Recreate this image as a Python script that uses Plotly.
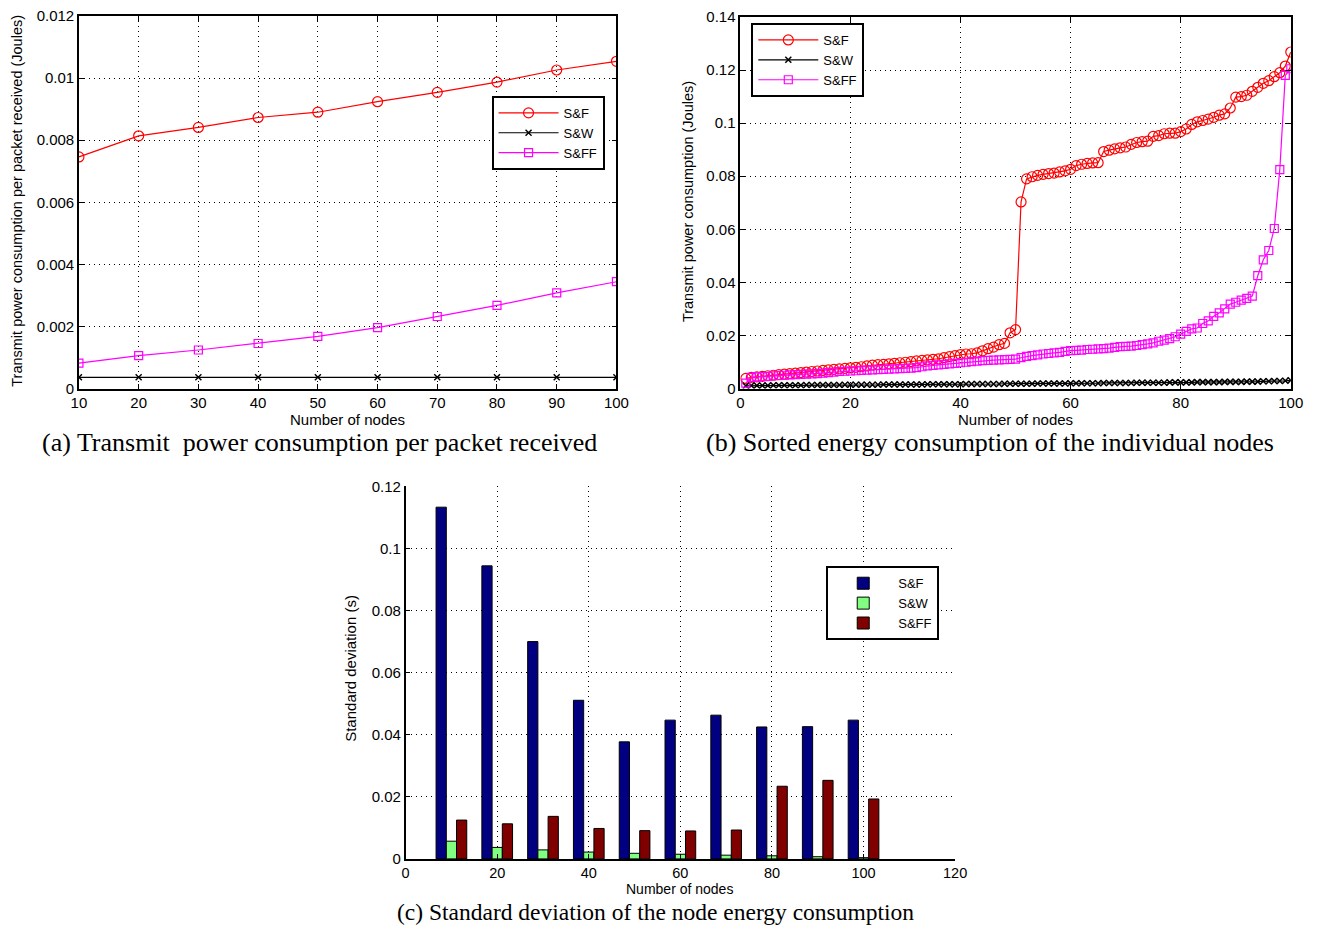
import plotly.graph_objects as go

W, H = 1319, 930

# ---------------- Data ----------------
# (a) Transmit power consumption per packet received
nodes_a = [10, 20, 30, 40, 50, 60, 70, 80, 90, 100]
sf_a = [0.00746, 0.00814, 0.00841, 0.00873, 0.00890, 0.00924, 0.00954, 0.00987, 0.01026, 0.01054]
sw_a = [0.00036, 0.00036, 0.00036, 0.00036, 0.00036, 0.00036, 0.00036, 0.00036, 0.00036, 0.00036]
sff_a = [0.00082, 0.00106, 0.00124, 0.00145, 0.00168, 0.00196, 0.00232, 0.00268, 0.00308, 0.00344]

# (b) Sorted energy consumption of the individual nodes (node index 1..100)
nodes_b = list(range(1, 101))
sf_b = [
    0.0038, 0.0042, 0.0044, 0.0046, 0.0048, 0.0050, 0.0052, 0.0054, 0.0056, 0.0058,
    0.0060, 0.0062, 0.0064, 0.0066, 0.0068, 0.0070, 0.0072, 0.0074, 0.0076, 0.0078,
    0.0080, 0.0082, 0.0085, 0.0088, 0.0090, 0.0091, 0.0093, 0.0095, 0.0097, 0.0099,
    0.0101, 0.0104, 0.0106, 0.0108, 0.0110, 0.0112, 0.0116, 0.0120, 0.0124, 0.0128,
    0.0130, 0.0131, 0.0134, 0.0142, 0.0150, 0.0156, 0.0165, 0.0170, 0.0210, 0.0222,
    0.0703, 0.0790, 0.0798, 0.0803, 0.0807, 0.0810, 0.0812, 0.0816, 0.0820, 0.0826,
    0.0840, 0.0845, 0.0848, 0.0850, 0.0851, 0.0893, 0.0898, 0.0903, 0.0907, 0.0910,
    0.0920, 0.0927, 0.0930, 0.0932, 0.0950, 0.0953, 0.0960, 0.0962, 0.0962, 0.0968,
    0.0978, 0.0995, 0.1005, 0.1010, 0.1015, 0.1022, 0.1030, 0.1035, 0.1057, 0.1098,
    0.1100, 0.1105, 0.1120, 0.1135, 0.1150, 0.1160, 0.1175, 0.1190, 0.1215, 0.1268,
]
sw_b = [
    0.0010, 0.0011, 0.0011, 0.0011, 0.0011, 0.0012, 0.0012, 0.0012, 0.0012, 0.0012,
    0.0012, 0.0013, 0.0013, 0.0013, 0.0013, 0.0013, 0.0013, 0.0013, 0.0014, 0.0014,
    0.0014, 0.0014, 0.0014, 0.0014, 0.0014, 0.0015, 0.0015, 0.0015, 0.0015, 0.0015,
    0.0015, 0.0015, 0.0015, 0.0016, 0.0016, 0.0016, 0.0016, 0.0016, 0.0016, 0.0016,
    0.0017, 0.0017, 0.0017, 0.0017, 0.0017, 0.0017, 0.0017, 0.0018, 0.0018, 0.0018,
    0.0018, 0.0018, 0.0018, 0.0019, 0.0019, 0.0019, 0.0019, 0.0019, 0.0019, 0.0020,
    0.0020, 0.0020, 0.0020, 0.0020, 0.0020, 0.0021, 0.0021, 0.0021, 0.0021, 0.0021,
    0.0021, 0.0022, 0.0022, 0.0022, 0.0022, 0.0022, 0.0022, 0.0023, 0.0023, 0.0023,
    0.0023, 0.0023, 0.0024, 0.0024, 0.0024, 0.0024, 0.0024, 0.0025, 0.0025, 0.0025,
    0.0025, 0.0026, 0.0026, 0.0026, 0.0027, 0.0027, 0.0028, 0.0028, 0.0029, 0.0031,
]
sff_b = [
    0.0020, 0.0042, 0.0044, 0.0045, 0.0046, 0.0048, 0.0049, 0.0050, 0.0051, 0.0052,
    0.0053, 0.0054, 0.0055, 0.0056, 0.0058, 0.0060, 0.0062, 0.0064, 0.0065, 0.0066,
    0.0067, 0.0068, 0.0069, 0.0070, 0.0071, 0.0072, 0.0073, 0.0074, 0.0075, 0.0076,
    0.0077, 0.0079, 0.0082, 0.0085, 0.0087, 0.0089, 0.0091, 0.0093, 0.0095, 0.0097,
    0.0099, 0.0101, 0.0103, 0.0105, 0.0106, 0.0107, 0.0108, 0.0109, 0.0110, 0.0111,
    0.0116, 0.0121, 0.0124, 0.0127, 0.0130, 0.0132, 0.0134, 0.0136, 0.0140, 0.0143,
    0.0144, 0.0145, 0.0147, 0.0148, 0.0149, 0.0150, 0.0152, 0.0155, 0.0158, 0.0159,
    0.0160, 0.0162, 0.0165, 0.0168, 0.0172, 0.0178, 0.0182, 0.0188, 0.0195, 0.0205,
    0.0215, 0.0225, 0.0228, 0.0245, 0.0255, 0.0272, 0.0285, 0.0300, 0.0318, 0.0325,
    0.0333, 0.0340, 0.0348, 0.0425, 0.0485, 0.0520, 0.0603, 0.0825, 0.1180, 0.1205,
]

# (c) Standard deviation of the node energy consumption
nodes_c = [10, 20, 30, 40, 50, 60, 70, 80, 90, 100]
sf_c = [0.1133, 0.0944, 0.0700, 0.0511, 0.0377, 0.0447, 0.0463, 0.0425, 0.0426, 0.0447]
sw_c = [0.0057, 0.0037, 0.0029, 0.0022, 0.0018, 0.0015, 0.0012, 0.0010, 0.0007, 0.0004]
sff_c = [0.0125, 0.0113, 0.0137, 0.0098, 0.0091, 0.0090, 0.0093, 0.0234, 0.0253, 0.0193]

series_names = ["S&F", "S&W", "S&FF"]

ticks_a_y = [0, 0.002, 0.004, 0.006, 0.008, 0.01, 0.012]
ticks_a_y_txt = ["0", "0.002", "0.004", "0.006", "0.008", "0.01", "0.012"]
ticks_a_x = [10, 20, 30, 40, 50, 60, 70, 80, 90, 100]
ticks_b_y = [0, 0.02, 0.04, 0.06, 0.08, 0.1, 0.12, 0.14]
ticks_b_y_txt = ["0", "0.02", "0.04", "0.06", "0.08", "0.1", "0.12", "0.14"]
ticks_b_x = [0, 20, 40, 60, 80, 100]
ticks_c_y = [0, 0.02, 0.04, 0.06, 0.08, 0.1, 0.12]
ticks_c_y_txt = ["0", "0.02", "0.04", "0.06", "0.08", "0.1", "0.12"]
ticks_c_x = [0, 20, 40, 60, 80, 100, 120]

# ---------------- Layout helpers ----------------
# Target positions are given in picture pixels; the returned picture shows the page
# inset by ~8px and scaled by ~0.984, so positions are mapped back to figure pixels.
SX, SY, OFFSET = 0.985, 0.983, 8.0

def px_x(p):
    return ((p - OFFSET) / SX) / W

def px_y(p):
    return 1 - ((p - OFFSET) / SY) / H

SANS = "Liberation Sans, Arial, sans-serif"
SERIF = "Liberation Serif, Times New Roman, serif"
TICKFONT = dict(family=SANS, size=15, color="black")
LEGFONT = dict(family=SANS, size=13, color="black")

RED = "#FF0000"
MAG = "#FF00FF"
BLK = "#000000"

fig = go.Figure()

# ---- (a)
fig.add_trace(go.Scatter(x=nodes_a, y=sf_a, name=series_names[0], mode="lines+markers",
                         line=dict(color=RED, width=1.2),
                         marker=dict(symbol="circle-open", size=10, color=RED, line=dict(width=1.2)),
                         xaxis="x", yaxis="y", legend="legend"))
fig.add_trace(go.Scatter(x=nodes_a, y=sw_a, name=series_names[1], mode="lines+markers",
                         line=dict(color=BLK, width=1.2),
                         marker=dict(symbol="x-thin-open", size=6, color=BLK, line=dict(width=1.4, color=BLK)),
                         xaxis="x", yaxis="y", legend="legend"))
fig.add_trace(go.Scatter(x=nodes_a, y=sff_a, name=series_names[2], mode="lines+markers",
                         line=dict(color=MAG, width=1.2),
                         marker=dict(symbol="square-open", size=8, color=MAG, line=dict(width=1.2)),
                         xaxis="x", yaxis="y", legend="legend"))

# ---- (b)
fig.add_trace(go.Scatter(x=nodes_b, y=sf_b, name=series_names[0], mode="lines+markers",
                         line=dict(color=RED, width=1.2),
                         marker=dict(symbol="circle-open", size=10, color=RED, line=dict(width=1.2)),
                         xaxis="x2", yaxis="y2", legend="legend2"))
fig.add_trace(go.Scatter(x=nodes_b, y=sw_b, name=series_names[1], mode="lines+markers",
                         line=dict(color=BLK, width=1.2),
                         marker=dict(symbol="x-thin-open", size=6, color=BLK, line=dict(width=1.5, color=BLK)),
                         xaxis="x2", yaxis="y2", legend="legend2"))
fig.add_trace(go.Scatter(x=nodes_b, y=sff_b, name=series_names[2], mode="lines+markers",
                         line=dict(color=MAG, width=1.2),
                         marker=dict(symbol="square-open", size=8, color=MAG, line=dict(width=1.2)),
                         xaxis="x2", yaxis="y2", legend="legend2"))

# ---- (c)
bar_cols = ["#000080", "#80FF80", "#800000"]
for name, vals, col in zip(series_names, [sf_c, sw_c, sff_c], bar_cols):
    fig.add_trace(go.Bar(x=nodes_c, y=vals, name=name,
                         marker=dict(color=col, line=dict(color="black", width=1)),
                         xaxis="x3", yaxis="y3", legend="legend3"))

grid = dict(showgrid=True, gridcolor="black", gridwidth=1, griddash="1px,4px", zeroline=False,
            showline=True, linecolor="black", linewidth=1.5, ticks="inside", ticklen=5,
            tickcolor="black", tickfont=TICKFONT)

# plot-area boxes, in picture pixels
A = dict(l=79, r=617, t=15, b=388)
B = dict(l=741, r=1292, t=16, b=388)
C = dict(l=406, r=956, t=486, b=859)

legend_common = dict(xanchor="left", yanchor="top", bgcolor="white", bordercolor="black",
                     borderwidth=2, font=LEGFONT, tracegroupgap=0, itemwidth=60)

fig.update_layout(
    width=W, height=H, margin=dict(l=0, r=0, t=0, b=0),
    paper_bgcolor="white", plot_bgcolor="white",
    barmode="group", bargap=0.33, bargroupgap=0.0,
    xaxis=dict(domain=[px_x(A["l"]), px_x(A["r"])], anchor="y", range=[10, 100],
               tickvals=ticks_a_x, mirror="ticks", **grid),
    yaxis=dict(domain=[px_y(A["b"]), px_y(A["t"])], anchor="x", range=[0, 0.012],
               tickvals=ticks_a_y, ticktext=ticks_a_y_txt, mirror="ticks", **grid),
    xaxis2=dict(domain=[px_x(B["l"]), px_x(B["r"])], anchor="y2", range=[0, 100],
                tickvals=ticks_b_x, mirror="ticks", **grid),
    yaxis2=dict(domain=[px_y(B["b"]), px_y(B["t"])], anchor="x2", range=[0, 0.14],
                tickvals=ticks_b_y, ticktext=ticks_b_y_txt, mirror="ticks", **grid),
    xaxis3=dict(domain=[px_x(C["l"]), px_x(C["r"])], anchor="y3", range=[0, 120],
                tickvals=ticks_c_x, **grid),
    yaxis3=dict(domain=[px_y(C["b"]), px_y(C["t"])], anchor="x3", range=[0, 0.12],
                tickvals=ticks_c_y, ticktext=ticks_c_y_txt, **grid),
    legend=dict(x=px_x(492), y=px_y(95), **legend_common),
    legend2=dict(x=px_x(752), y=px_y(22), **legend_common),
    legend3=dict(x=px_x(827), y=px_y(566), **legend_common),
    showlegend=True,
)
fig.update_xaxes(tickfont=dict(family=SANS, size=14.5, color="black"), selector=dict(anchor="y3"))

ann = []
def add_text(text, x, y, size, family, angle=0):
    ann.append(dict(text=text, x=px_x(x), y=px_y(y), xref="paper", yref="paper",
                    showarrow=False, xanchor="center", yanchor="middle", textangle=angle,
                    font=dict(family=family, size=size, color="black")))

# axis titles
add_text("Number of nodes", 348, 419, 15, SANS)
add_text("Number of nodes", 1016, 419, 15, SANS)
add_text("Number of nodes", 680, 889.5, 14, SANS)
add_text("Transmit power consumption per packet received (Joules)", 17, 200, 14.5, SANS, -90)
add_text("Transmit power consumption (Joules)", 688, 201, 14.5, SANS, -90)
add_text("Standard deviation (s)", 350, 668, 15, SANS, -90)
# captions
add_text("(a) Transmit  power consumption per packet received", 320, 442, 26, SERIF)
add_text("(b) Sorted energy consumption of the individual nodes", 991, 442, 26, SERIF)
add_text("(c) Standard deviation of the node energy consumption", 656, 912, 23.5, SERIF)

fig.update_layout(annotations=ann)

# remove the default page margin so the figure sits at the window's top-left corner
page_js = ("document.body.style.margin='0';document.body.style.padding='0';"
           "document.documentElement.style.overflow='hidden';")

fig.write_html("out.html", post_script=page_js, config={"displayModeBar": False})
